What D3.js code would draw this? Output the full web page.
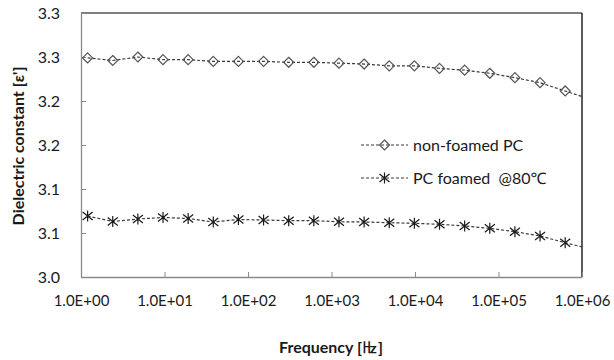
<!DOCTYPE html>
<html>
<head>
<meta charset="utf-8">
<script src="https://cdn.jsdelivr.net/npm/d3@7"></script>
<style>
  body { margin: 0; background: #fff; }
  svg { display: block; }
  text { font-family: Lato, "Noto Sans", sans-serif; fill: #1a1a1a; }
</style>
</head>
<body>
<svg id="chart" width="614" height="360"></svg>
<script>
// ---- data ----
const frequencies = [1.2, 2.4, 4.8, 9.6, 19.2, 38.4, 76.8, 153.6, 307.2, 614.4, 1228.8,
  2457.6, 4915.2, 9830.4, 19660.8, 39321.6, 78643.2, 157286.4, 314572.8, 629145.6, 1258291.2];
const nonFoamed = [3.249, 3.246, 3.250, 3.247, 3.247, 3.245, 3.245, 3.245, 3.244, 3.244, 3.243,
  3.242, 3.240, 3.240, 3.237, 3.235, 3.2315, 3.2265, 3.2208, 3.2114, 3.202];
const foamed = [3.0693, 3.0631, 3.0659, 3.0676, 3.0665, 3.0625, 3.0653, 3.0648, 3.064, 3.064, 3.0628,
  3.0625, 3.0617, 3.061, 3.0599, 3.058, 3.0553, 3.0515, 3.0466, 3.039, 3.0318];
const seriesNames = ["non-foamed PC", "PC foamed  @80\u2103"];
const xTickValues = [1, 10, 100, 1000, 10000, 100000, 1000000];
const xTickLabels = ["1.0E+00", "1.0E+01", "1.0E+02", "1.0E+03", "1.0E+04", "1.0E+05", "1.0E+06"];
const yTickValues = [3.00, 3.05, 3.10, 3.15, 3.20, 3.25, 3.30];
const yTickLabels = ["3.0", "3.1", "3.1", "3.2", "3.2", "3.3", "3.3"];
const xTitle = "Frequency [\u3390]";
const yTitle = "Dielectric constant [\u03b5']";

// ---- layout ----
const svg = d3.select("#chart");
const L = 81, R = 582, T = 13, B = 277;
const x = d3.scaleLog().domain([1, 1e6]).range([L, R]);
const y = d3.scaleLinear().domain([3.0, 3.3]).range([B, T]);

svg.append("defs").append("clipPath").attr("id", "plotclip")
  .append("rect").attr("x", L).attr("y", T - 8).attr("width", R - L).attr("height", B - T + 16);

// frame: top & right darker, left & bottom lighter
svg.append("line").attr("x1", L).attr("x2", R).attr("y1", T).attr("y2", T)
  .attr("stroke", "#555").attr("stroke-width", 1.6);
svg.append("line").attr("x1", R).attr("x2", R).attr("y1", T).attr("y2", B)
  .attr("stroke", "#333").attr("stroke-width", 1.6);

// axes with inward ticks
const xAxis = d3.axisBottom(x).tickValues(xTickValues).tickSizeInner(-5).tickSizeOuter(0)
  .tickFormat((d, i) => xTickLabels[i]);
const gx = svg.append("g").attr("transform", `translate(0,${B})`).call(xAxis);
gx.select(".domain").attr("stroke", "#8a8a8a").attr("stroke-width", 1.3);
gx.selectAll(".tick line").attr("stroke", "#8a8a8a");
gx.selectAll(".tick text").attr("y", 24).attr("dy", "0.32em")
  .style("font-size", "15px").style("font-family", "Lato, sans-serif").attr("fill", "#1a1a1a");

const yAxis = d3.axisLeft(y).tickValues(yTickValues).tickSizeInner(-5).tickSizeOuter(0)
  .tickFormat((d, i) => yTickLabels[i]);
const gy = svg.append("g").attr("transform", `translate(${L},0)`).call(yAxis);
gy.select(".domain").attr("stroke", "#8a8a8a").attr("stroke-width", 1.3);
gy.selectAll(".tick line").attr("stroke", "#8a8a8a");
gy.selectAll(".tick text").attr("x", -21)
  .style("font-size", "16px").style("font-family", "Lato, sans-serif").attr("fill", "#1a1a1a");

// ---- series ----
const diamond = "M0,-5L5,0L0,5L-5,0Z";
const star = "M0,-5.5V5.5M-5,-4L5,4M-5,4L5,-4";
const series = [
  { name: seriesNames[0], values: nonFoamed, marker: diamond, mstroke: "#555" },
  { name: seriesNames[1], values: foamed, marker: star, mstroke: "#1a1a1a" }
];
const line = d3.line().x((d, i) => x(frequencies[i])).y(d => y(d));
const plot = svg.append("g").attr("clip-path", "url(#plotclip)");
series.forEach(s => {
  plot.append("path").datum(s.values).attr("d", line)
    .attr("fill", "none").attr("stroke", "#3a3a3a").attr("stroke-width", 1.2)
    .attr("stroke-dasharray", "3,2");
  plot.selectAll(null).data(s.values).enter().append("path")
    .attr("d", s.marker)
    .attr("transform", (d, i) => `translate(${x(frequencies[i])},${y(d)})`)
    .attr("fill", "none").attr("stroke", s.mstroke).attr("stroke-width", 1.2);
});

// ---- legend ----
const legY = [145, 178];
series.forEach((s, i) => {
  const g = svg.append("g").attr("transform", `translate(361,${legY[i]})`);
  g.append("line").attr("x1", 0).attr("x2", 47).attr("y1", 0).attr("y2", 0)
    .attr("stroke", "#3a3a3a").attr("stroke-width", 1.2).attr("stroke-dasharray", "3,2");
  g.append("path").attr("d", s.marker).attr("transform", "translate(23.5,0)")
    .attr("fill", "none").attr("stroke", s.mstroke).attr("stroke-width", 1.2);
  g.append("text").attr("x", 52).attr("y", 0).attr("dy", "0.35em")
    .style("font-size", "16px").style("white-space", "pre").text(s.name);
});

// ---- titles ----
svg.append("text").attr("x", 331).attr("y", 347).attr("dy", "0.35em")
  .attr("text-anchor", "middle").style("font-size", "16px").style("font-weight", "bold")
  .text(xTitle);
svg.append("text").attr("transform", "translate(18,146) rotate(-90)").attr("dy", "0.35em")
  .attr("text-anchor", "middle").style("font-size", "16px").style("font-weight", "bold")
  .text(yTitle);
</script>
</body>
</html>
